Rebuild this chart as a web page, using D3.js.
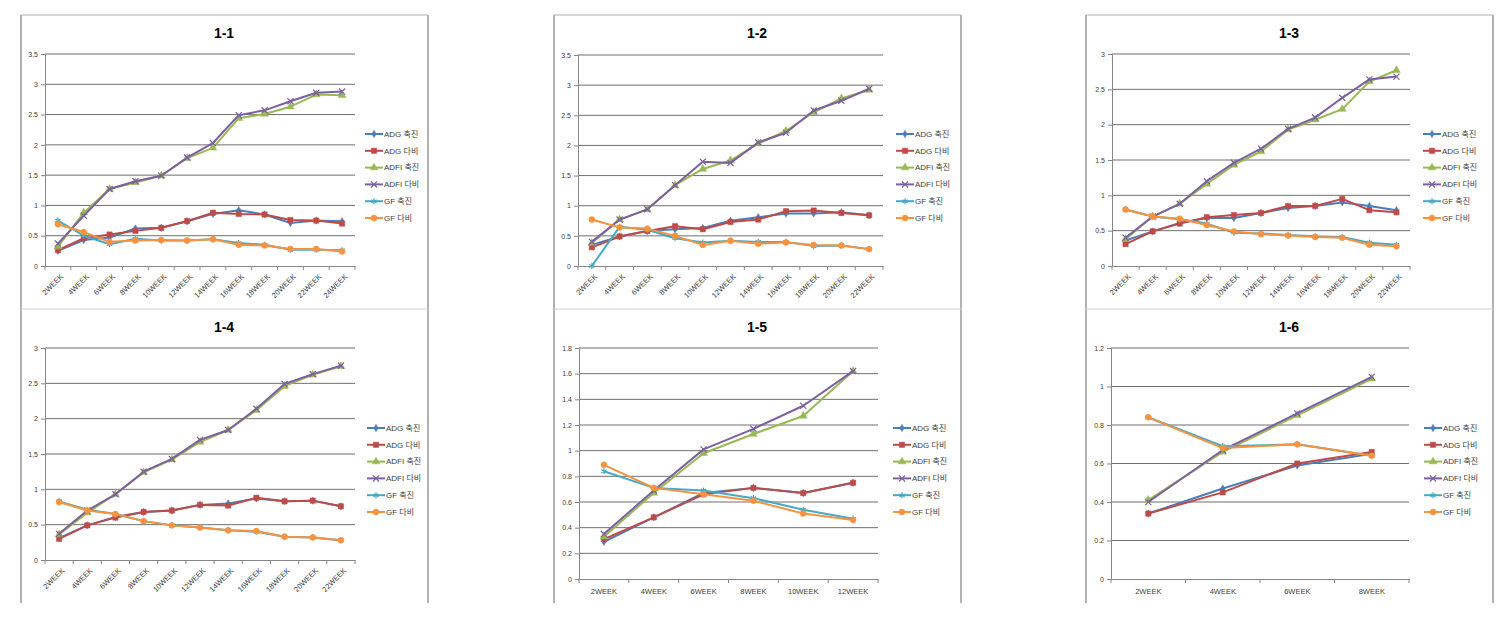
<!DOCTYPE html>
<html><head><meta charset="utf-8">
<script src="https://cdn.jsdelivr.net/npm/d3@7"></script>
<style>body{margin:0;background:#fff}svg{display:block}</style>
</head><body>
<svg id="c" width="1504" height="625"></svg>
<script>
// ---------- DATA ----------
const seriesNames = ["ADG 축진", "ADG 다비", "ADFI 축진", "ADFI 다비", "GF 축진", "GF 다비"];
const panelTitles = ["1-1", "1-2", "1-3", "1-4", "1-5", "1-6"];

const weeks12 = ["2WEEK","4WEEK","6WEEK","8WEEK","10WEEK","12WEEK","14WEEK","16WEEK","18WEEK","20WEEK","22WEEK","24WEEK"];
const weeks11 = ["2WEEK","4WEEK","6WEEK","8WEEK","10WEEK","12WEEK","14WEEK","16WEEK","18WEEK","20WEEK","22WEEK"];
const weeks6  = ["2WEEK","4WEEK","6WEEK","8WEEK","10WEEK","12WEEK"];
const weeks4  = ["2WEEK","4WEEK","6WEEK","8WEEK"];

const yTicks35 = [0, 0.5, 1, 1.5, 2, 2.5, 3, 3.5];
const yTicks3  = [0, 0.5, 1, 1.5, 2, 2.5, 3];
const yTicks18 = [0, 0.2, 0.4, 0.6, 0.8, 1, 1.2, 1.4, 1.6, 1.8];
const yTicks12 = [0, 0.2, 0.4, 0.6, 0.8, 1, 1.2];

// 1-1
const p1_adgChuk  = [0.25, 0.43, 0.47, 0.62, 0.63, 0.74, 0.86, 0.92, 0.85, 0.71, 0.75, 0.74];
const p1_adgDabi  = [0.26, 0.46, 0.52, 0.58, 0.63, 0.74, 0.88, 0.86, 0.85, 0.76, 0.75, 0.70];
const p1_adfiChuk = [0.32, 0.88, 1.27, 1.38, 1.49, 1.78, 1.95, 2.44, 2.51, 2.63, 2.83, 2.82];
const p1_adfiDabi = [0.37, 0.83, 1.27, 1.40, 1.49, 1.79, 2.03, 2.49, 2.57, 2.72, 2.86, 2.88];
const p1_gfChuk   = [0.75, 0.50, 0.36, 0.45, 0.42, 0.42, 0.44, 0.38, 0.35, 0.27, 0.27, 0.26];
const p1_gfDabi   = [0.69, 0.56, 0.40, 0.42, 0.43, 0.42, 0.44, 0.35, 0.34, 0.28, 0.28, 0.24];
// 1-2
const p2_adgChuk  = [0.35, 0.49, 0.58, 0.61, 0.63, 0.75, 0.81, 0.87, 0.87, 0.89, 0.84];
const p2_adgDabi  = [0.31, 0.49, 0.58, 0.66, 0.61, 0.73, 0.77, 0.91, 0.92, 0.88, 0.84];
const p2_adfiChuk = [0.38, 0.77, 0.94, 1.34, 1.61, 1.75, 2.03, 2.24, 2.55, 2.78, 2.92];
const p2_adfiDabi = [0.40, 0.77, 0.94, 1.34, 1.73, 1.71, 2.05, 2.21, 2.58, 2.74, 2.94];
const p2_gfChuk   = [0.00, 0.65, 0.60, 0.46, 0.39, 0.42, 0.40, 0.40, 0.33, 0.34, 0.28];
const p2_gfDabi   = [0.77, 0.64, 0.62, 0.50, 0.35, 0.42, 0.37, 0.39, 0.35, 0.34, 0.28];
// 1-3
const p3_adgChuk  = [0.36, 0.49, 0.61, 0.68, 0.68, 0.75, 0.82, 0.85, 0.90, 0.85, 0.79];
const p3_adgDabi  = [0.31, 0.49, 0.60, 0.69, 0.72, 0.75, 0.85, 0.85, 0.95, 0.79, 0.76];
const p3_adfiChuk = [0.38, 0.70, 0.88, 1.16, 1.43, 1.62, 1.93, 2.07, 2.22, 2.61, 2.77];
const p3_adfiDabi = [0.40, 0.70, 0.88, 1.20, 1.46, 1.66, 1.94, 2.10, 2.38, 2.64, 2.68];
const p3_gfChuk   = [0.80, 0.70, 0.66, 0.60, 0.47, 0.46, 0.44, 0.42, 0.41, 0.33, 0.30];
const p3_gfDabi   = [0.80, 0.70, 0.67, 0.58, 0.49, 0.45, 0.43, 0.41, 0.40, 0.30, 0.28];
// 1-4
const p4_adgChuk  = [0.31, 0.49, 0.61, 0.68, 0.70, 0.78, 0.80, 0.87, 0.83, 0.84, 0.76];
const p4_adgDabi  = [0.30, 0.49, 0.60, 0.68, 0.70, 0.78, 0.77, 0.88, 0.83, 0.84, 0.76];
const p4_adfiChuk = [0.36, 0.67, 0.93, 1.24, 1.42, 1.67, 1.84, 2.12, 2.46, 2.62, 2.74];
const p4_adfiDabi = [0.37, 0.70, 0.93, 1.25, 1.43, 1.70, 1.84, 2.14, 2.49, 2.63, 2.75];
const p4_gfChuk   = [0.83, 0.71, 0.65, 0.55, 0.49, 0.46, 0.42, 0.40, 0.33, 0.32, 0.28];
const p4_gfDabi   = [0.82, 0.70, 0.65, 0.55, 0.49, 0.46, 0.42, 0.41, 0.33, 0.32, 0.28];
// 1-5
const p5_adgChuk  = [0.29, 0.48, 0.67, 0.71, 0.67, 0.75];
const p5_adgDabi  = [0.31, 0.48, 0.66, 0.71, 0.67, 0.75];
const p5_adfiChuk = [0.33, 0.67, 0.98, 1.13, 1.27, 1.62];
const p5_adfiDabi = [0.35, 0.69, 1.01, 1.17, 1.35, 1.62];
const p5_gfChuk   = [0.84, 0.71, 0.69, 0.63, 0.54, 0.47];
const p5_gfDabi   = [0.89, 0.71, 0.66, 0.61, 0.51, 0.46];
// 1-6
const p6_adgChuk  = [0.34, 0.47, 0.59, 0.65];
const p6_adgDabi  = [0.34, 0.45, 0.60, 0.66];
const p6_adfiChuk = [0.41, 0.66, 0.85, 1.04];
const p6_adfiDabi = [0.40, 0.67, 0.86, 1.05];
const p6_gfChuk   = [0.84, 0.69, 0.70, 0.64];
const p6_gfDabi   = [0.84, 0.68, 0.70, 0.64];

// ---------- STYLE / LAYOUT ----------
const colors = ["#4A7EBB", "#BE4B48", "#98B954", "#7D60A0", "#46AAC5", "#F69240"];
const symbols = [
  {t: d3.symbolDiamond, s: 16, fill: true},
  {t: d3.symbolSquare, s: 28, fill: true},
  {t: d3.symbolTriangle, s: 26, fill: true},
  {t: d3.symbolTimes, s: 26, fill: false},
  {t: d3.symbolAsterisk, s: 26, fill: false},
  {t: d3.symbolCircle, s: 28, fill: true}
];
const FONT = "'Liberation Sans', Arial, 'Noto Sans CJK KR', sans-serif";

const panels = [
  {cats: weeks12, ticks: yTicks35, vals: [p1_adgChuk,p1_adgDabi,p1_adfiChuk,p1_adfiDabi,p1_gfChuk,p1_gfDabi],
   box: [21, 15, 428, 309], plot: [45, 54, 355, 266], title: [224, 33], legend: [365, 134], rot: true},
  {cats: weeks11, ticks: yTicks35, vals: [p2_adgChuk,p2_adgDabi,p2_adfiChuk,p2_adfiDabi,p2_gfChuk,p2_gfDabi],
   box: [554, 15, 961, 309], plot: [578, 55, 883, 266], title: [757, 33], legend: [896, 134], rot: true},
  {cats: weeks11, ticks: yTicks3, vals: [p3_adgChuk,p3_adgDabi,p3_adfiChuk,p3_adfiDabi,p3_gfChuk,p3_gfDabi],
   box: [1086, 15, 1493, 309], plot: [1112, 54, 1410, 266], title: [1289, 33], legend: [1423, 134], rot: true},
  {cats: weeks11, ticks: yTicks3, vals: [p4_adgChuk,p4_adgDabi,p4_adfiChuk,p4_adfiDabi,p4_gfChuk,p4_gfDabi],
   box: [21, 309, 428, 603], plot: [45, 348, 355, 560], title: [224, 327], legend: [367, 428], rot: true},
  {cats: weeks6, ticks: yTicks18, vals: [p5_adgChuk,p5_adgDabi,p5_adfiChuk,p5_adfiDabi,p5_gfChuk,p5_gfDabi],
   box: [554, 309, 961, 603], plot: [579, 348, 878, 579], title: [757, 327], legend: [893, 428], rot: false},
  {cats: weeks4, ticks: yTicks12, vals: [p6_adgChuk,p6_adgDabi,p6_adfiChuk,p6_adfiDabi,p6_gfChuk,p6_gfDabi],
   box: [1086, 309, 1493, 603], plot: [1111, 348, 1409, 579], title: [1289, 327], legend: [1424, 428], rot: false}
];

const svg = d3.select("#c");
svg.append("rect").attr("width", 1504).attr("height", 625).attr("fill", "#fff");

panels.forEach((p, pi) => {
  const g = svg.append("g");
  const [bx0, by0, bx1, by1] = p.box;
  // panel frame
  g.append("line").attr("x1", bx0).attr("x2", bx0).attr("y1", by0).attr("y2", by1).attr("stroke", "#9a9a9a").attr("stroke-width", 1.5);
  g.append("line").attr("x1", bx1).attr("x2", bx1).attr("y1", by0).attr("y2", by1).attr("stroke", "#9a9a9a").attr("stroke-width", 1.5);
  g.append("line").attr("x1", bx0).attr("x2", bx1).attr("y1", by0).attr("y2", by0).attr("stroke", pi < 3 ? "#b0b0b0" : "#d0d0d0").attr("stroke-width", 1);

  const [x0, y0, x1, y1] = p.plot;
  const yMax = p.ticks[p.ticks.length - 1];
  const x = d3.scaleBand().domain(p.cats).range([x0, x1]).padding(0);
  const y = d3.scaleLinear().domain([0, yMax]).range([y1, y0]);
  const cx = c => x(c) + x.bandwidth() / 2;

  // gridlines
  g.append("g").selectAll("line").data(p.ticks.filter(t => t > 0)).join("line")
    .attr("x1", x0).attr("x2", x1).attr("y1", d => y(d)).attr("y2", d => y(d))
    .attr("stroke", "#6f6f6f").attr("stroke-width", 1);

  // y axis
  const yAxis = d3.axisLeft(y).tickValues(p.ticks).tickSize(4).tickFormat(d => d3.format("~g")(d));
  const ya = g.append("g").attr("transform", `translate(${x0},0)`).call(yAxis);
  ya.select(".domain").attr("stroke", "#868686");
  ya.selectAll(".tick line").attr("stroke", "#868686");
  ya.selectAll("text").attr("font-family", FONT).attr("font-size", 7).attr("fill", "#404040").attr("x", -7);

  // x axis
  const xAxis = d3.axisBottom(x).tickSize(0).tickSizeOuter(0);
  const xa = g.append("g").attr("transform", `translate(0,${y1})`).call(xAxis);
  xa.select(".domain").attr("stroke", "#868686");
  // category boundary tick marks
  const bounds = p.cats.map(c => x(c)).concat([x1]);
  g.append("g").selectAll("line").data(bounds).join("line")
    .attr("x1", d => d).attr("x2", d => d).attr("y1", y1).attr("y2", y1 + 4)
    .attr("stroke", "#868686");
  const xt = xa.selectAll(".tick text").attr("font-family", FONT).attr("font-size", 7.5).attr("fill", "#404040");
  if (p.rot) {
    xt.attr("text-anchor", "end").attr("dy", "0.35em").attr("y", 0)
      .attr("transform", "translate(4,9) rotate(-45)");
  } else {
    xt.attr("y", 10).attr("dy", "0.71em");
  }

  // title
  g.append("text").attr("x", p.title[0]).attr("y", p.title[1]).attr("text-anchor", "middle")
    .attr("dominant-baseline", "central").attr("font-family", FONT).attr("font-weight", "bold")
    .attr("font-size", 14).attr("fill", "#000").text(panelTitles[pi]);

  // series
  const line = d3.line().x((d, i) => cx(p.cats[i])).y(d => y(d));
  p.vals.forEach((vals, si) => {
    const sg = g.append("g");
    sg.append("path").datum(vals).attr("d", line).attr("fill", "none")
      .attr("stroke", colors[si]).attr("stroke-width", 2).attr("stroke-linejoin", "round");
    const sym = d3.symbol().type(symbols[si].t).size(symbols[si].s);
    sg.selectAll("path.m").data(vals).join("path").attr("class", "m")
      .attr("transform", (d, i) => `translate(${cx(p.cats[i])},${y(d)})`)
      .attr("d", sym)
      .attr("fill", symbols[si].fill ? colors[si] : "none")
      .attr("stroke", colors[si]).attr("stroke-width", symbols[si].fill ? 0.5 : 1.2);
  });

  // legend
  const [lx, ly] = p.legend;
  const lg = g.append("g");
  seriesNames.forEach((name, si) => {
    const yy = ly + si * 16.8;
    lg.append("line").attr("x1", lx).attr("x2", lx + 18).attr("y1", yy).attr("y2", yy)
      .attr("stroke", colors[si]).attr("stroke-width", 2);
    lg.append("path").attr("transform", `translate(${lx + 9},${yy})`)
      .attr("d", d3.symbol().type(symbols[si].t).size(symbols[si].s)())
      .attr("fill", symbols[si].fill ? colors[si] : "none")
      .attr("stroke", colors[si]).attr("stroke-width", symbols[si].fill ? 0.5 : 1.2);
    lg.append("text").attr("x", lx + 19).attr("y", yy).attr("dy", "0.35em")
      .attr("font-family", FONT).attr("font-size", 8).attr("fill", "#404040").text(name);
  });
});
</script>
</body></html>
